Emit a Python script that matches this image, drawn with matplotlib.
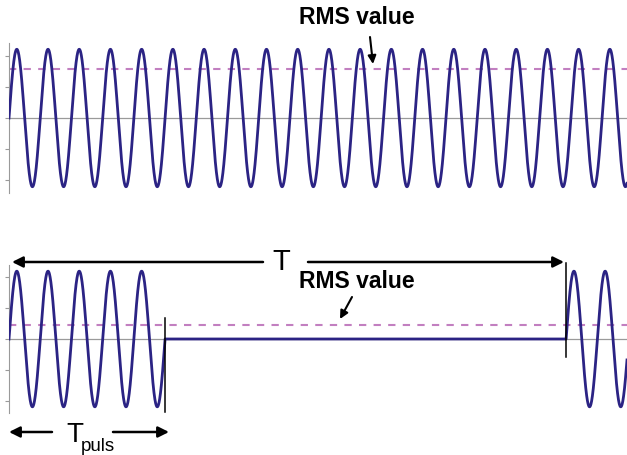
import numpy as np
import matplotlib
matplotlib.use("Agg")
import matplotlib.pyplot as plt

# signal parameters (in cycles of the sine)
amplitude = 1.1
x_end = 19.8            # visible span, cycles
burst_cycles = 5.0      # length of the pulse (T_puls)
period_T = 17.85        # start of next pulse (T)
rms_full = amplitude / np.sqrt(2)
rms_pulsed = 0.23
yticks = [-1.0, -0.5, 0.0, 0.5, 1.0]

navy = "#2b2384"
pink = "#c27fc0"
W, H = 627, 455


def px(x, y):
    # pixel position (from top-left) -> figure fraction
    return (x / W, 1 - y / H)


def arrow(x0, y0, x1, y1, lw=1.8, ms=16):
    fig.add_artist(plt.Annotation("", xy=px(x1, y1), xytext=px(x0, y0),
                                  xycoords="figure fraction", textcoords="figure fraction",
                                  arrowprops=dict(arrowstyle="-|>", color="black", lw=lw,
                                                  mutation_scale=ms, shrinkA=0, shrinkB=0)))


fig = plt.figure(figsize=(W / 100, H / 100), dpi=100)

ax1 = fig.add_axes([9 / W, 262 / H, 618 / W, 150 / H])
ax2 = fig.add_axes([9 / W, 42 / H, 618 / W, 148 / H])

t = np.linspace(0, x_end, 4000)

# top: continuous sine
ax1.plot(t, amplitude * np.sin(2 * np.pi * t), color=navy, lw=2.0, zorder=3)
ax1.axhline(rms_full, color=pink, lw=1.5, ls=(0, (3.5, 3.5)), zorder=2)

# bottom: pulsed sine
y2 = np.zeros_like(t)
on1 = t <= burst_cycles
on2 = t >= period_T
y2[on1] = amplitude * np.sin(2 * np.pi * t[on1])
y2[on2] = amplitude * np.sin(2 * np.pi * (t[on2] - period_T))
ax2.plot(t, y2, color=navy, lw=2.0, zorder=3)
ax2.axhline(rms_pulsed, color=pink, lw=1.5, ls=(0, (3.5, 3.5)), zorder=2)
ax2.plot([burst_cycles, burst_cycles], [0.34, -1.18], color="black", lw=1.1,
         clip_on=False, zorder=4)
ax2.plot([period_T, period_T], [1.24, -0.29], color="black", lw=1.1,
         clip_on=False, zorder=4)

for ax in (ax1, ax2):
    ax.set_xlim(0, x_end)
    ax.set_ylim(-1.2, 1.2)
    ax.axhline(0, color="#9a9a9a", lw=0.9, zorder=1)
    for s in ("top", "right", "bottom"):
        ax.spines[s].set_visible(False)
    ax.spines["left"].set_color("#9a9a9a")
    ax.spines["left"].set_linewidth(0.8)
    ax.set_yticks(yticks)
    ax.set_yticklabels([])
    ax.tick_params(axis="y", length=3, width=0.8, color="#9a9a9a", direction="out")
    ax.set_xticks([])
    ax.patch.set_alpha(0)

# annotations
fig.text(*px(357, 18), "RMS value", ha="center", va="center",
         fontsize=16.5, fontweight="bold", family="Liberation Sans")
arrow(370, 37, 373, 64, lw=1.5, ms=12)

fig.text(*px(357, 281), "RMS value", ha="center", va="center",
         fontsize=16.5, fontweight="bold", family="Liberation Sans")
arrow(352, 297, 340, 319, lw=1.5, ms=12)

# T arrow
fig.text(*px(281, 262), "T", ha="center", va="center",
         fontsize=21, family="Liberation Sans")
arrow(263, 262, 12, 262)
arrow(308, 262, 564, 262)

# T_puls arrow
fig.text(*px(66, 442), "T", ha="left", va="baseline",
         fontsize=20, family="Liberation Sans")
fig.text(*px(81, 451), "puls", ha="left", va="baseline",
         fontsize=13.5, family="Liberation Sans")
arrow(52, 432, 9, 432)
arrow(113, 432, 169, 432)

fig.savefig("out.png", dpi=100)
